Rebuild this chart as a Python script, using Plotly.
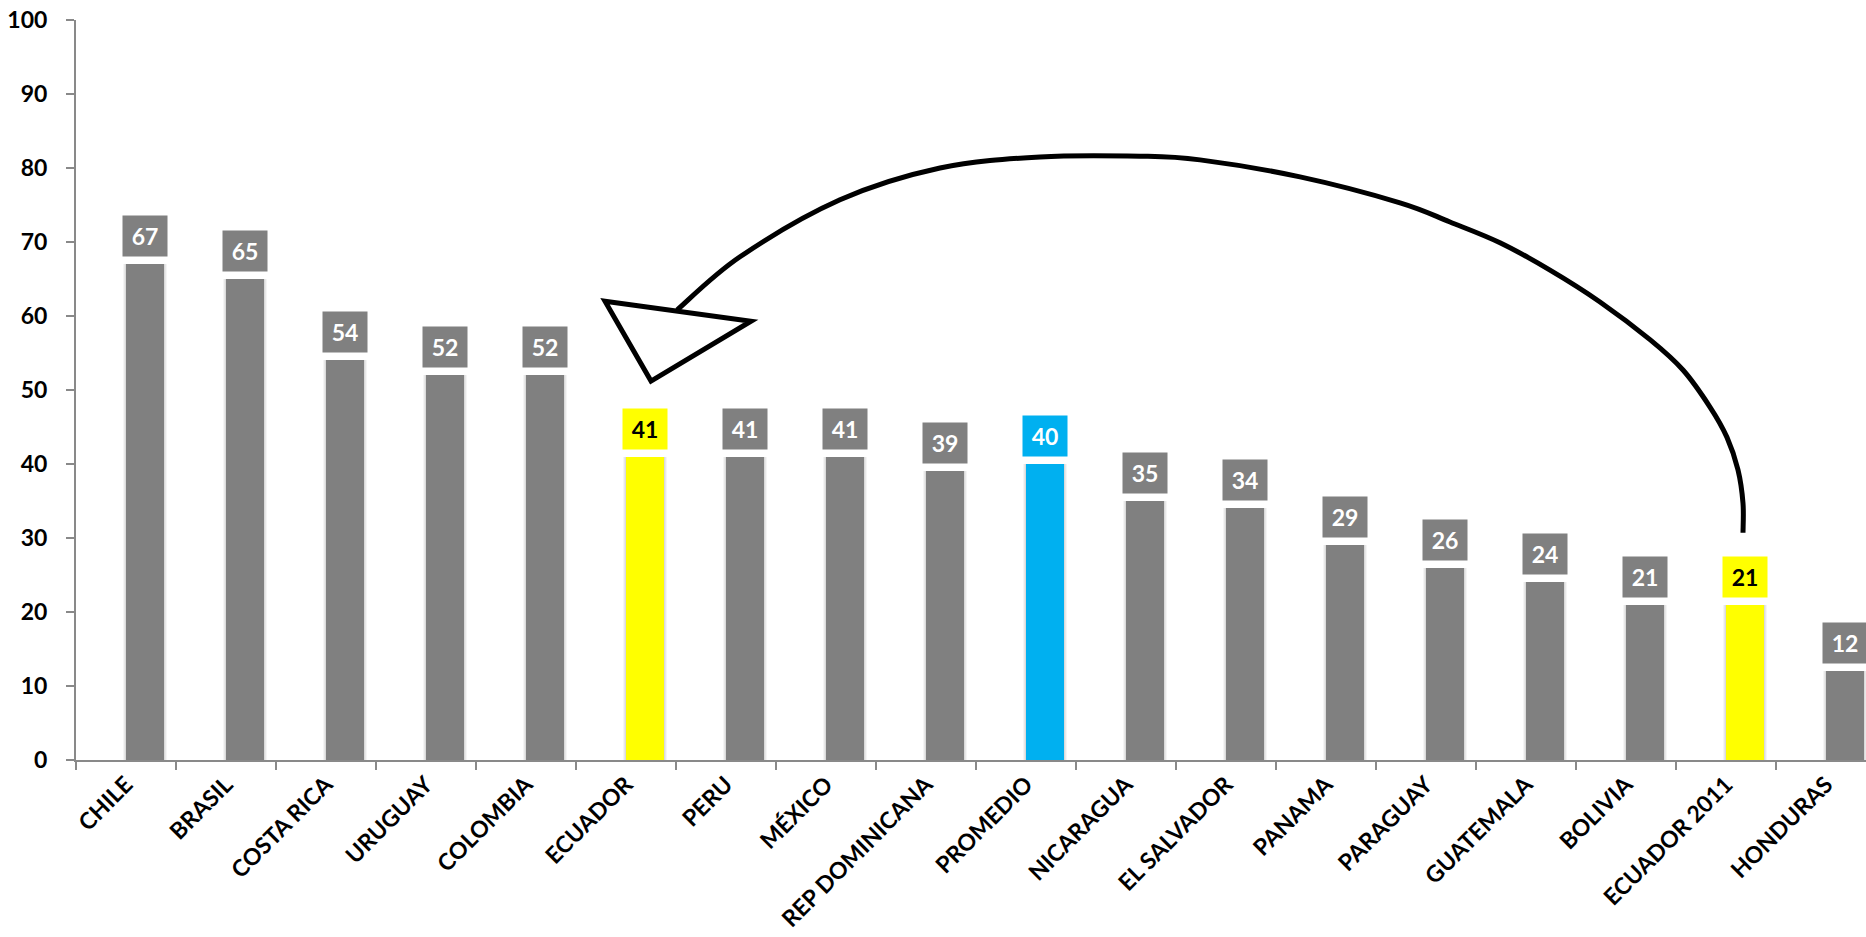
import plotly.graph_objects as go

categories = ["CHILE", "BRASIL", "COSTA RICA", "URUGUAY", "COLOMBIA", "ECUADOR", "PERU",
              "MÉXICO", "REP DOMINICANA", "PROMEDIO", "NICARAGUA", "EL SALVADOR", "PANAMA",
              "PARAGUAY", "GUATEMALA", "BOLIVIA", "ECUADOR 2011", "HONDURAS"]
values = [67, 65, 54, 52, 52, 41, 41, 41, 39, 40, 35, 34, 29, 26, 24, 21, 21, 12]
highlight = {"ECUADOR": "yellow", "ECUADOR 2011": "yellow", "PROMEDIO": "blue"}

GREY = "#808080"
YELLOW = "#FFFF00"
BLUE = "#00B0F0"
colors = []
for c in categories:
    h = highlight.get(c)
    colors.append(YELLOW if h == "yellow" else BLUE if h == "blue" else GREY)

# curved arrow (data units: category index, value)
curve_x = [5.51, 6.14, 7.14, 8.14, 9.14, 10.14, 10.74, 11.74, 12.74, 13.24, 13.74, 14.24,
           14.74, 15.24, 15.57, 15.84, 16.01, 16.12, 16.17, 16.17]
curve_y = [60.8, 68.0, 75.7, 80.0, 81.5, 81.6, 81.1, 78.8, 75.3, 72.7, 69.9, 66.2,
           61.9, 56.8, 52.7, 47.7, 43.6, 39.2, 34.7, 30.7]
head_x = [4.79, 6.25, 5.25]
head_y = [62.0, 59.3, 51.2]

X0, X1 = -0.5, 17.4
FONT = "Lato"

def px(x):
    return (x - X0) / (X1 - X0)

def py(y):
    return y / 100.0

fig = go.Figure()

# soft shadow behind bars
for w, off, op in [(0.44, -0.03, 0.04), (0.42, -0.02, 0.05), (0.40, -0.01, 0.06)]:
    fig.add_trace(go.Bar(x=categories, y=values, width=w, offset=off,
                         marker=dict(color=f"rgba(0,0,0,{op})", line=dict(width=0)),
                         hoverinfo="skip", showlegend=False))

fig.add_trace(go.Bar(x=categories, y=values, width=0.38, offset=0,
                     marker=dict(color=colors, line=dict(width=0)), showlegend=False))

fig.update_layout(barmode="overlay")

annotations = []
for i, (c, v, col) in enumerate(zip(categories, values, colors)):
    annotations.append(dict(
        x=i + 0.19, y=v, xref="x", yref="y", text=f"<b>{v}</b>", showarrow=False,
        yanchor="bottom", yshift=7, bgcolor=col, width=44, height=40, borderpad=0,
        font=dict(family=FONT, size=23, color="black" if col == YELLOW else "white"),
    ))

# build smooth path via Catmull-Rom
pts = [(px(x), py(y)) for x, y in zip(curve_x, curve_y)]
path = f"M {pts[0][0]},{pts[0][1]}"
for k in range(len(pts) - 1):
    p0 = pts[k - 1] if k > 0 else pts[k]
    p1 = pts[k]
    p2 = pts[k + 1]
    p3 = pts[k + 2] if k + 2 < len(pts) else pts[k + 1]
    c1 = (p1[0] + (p2[0] - p0[0]) / 6, p1[1] + (p2[1] - p0[1]) / 6)
    c2 = (p2[0] - (p3[0] - p1[0]) / 6, p2[1] - (p3[1] - p1[1]) / 6)
    path += f" C {c1[0]},{c1[1]} {c2[0]},{c2[1]} {p2[0]},{p2[1]}"

hp = [(px(x), py(y)) for x, y in zip(head_x, head_y)]
head_path = "M " + " L ".join(f"{a},{b}" for a, b in hp) + " Z"

shapes = [
    dict(type="path", path=path, xref="paper", yref="paper", line=dict(color="black", width=5)),
    dict(type="path", path=head_path, xref="paper", yref="paper", line=dict(color="black", width=5),
         fillcolor="rgba(0,0,0,0)"),
]

fig.update_layout(
    width=1866, height=937,
    margin=dict(l=76, r=0, t=20, b=177),
    paper_bgcolor="white", plot_bgcolor="white",
    bargap=0,
    annotations=annotations,
    shapes=shapes,
    xaxis=dict(
        type="category", range=[X0, X1], tickson="boundaries",
        ticks="outside", ticklen=8, tickwidth=2, tickcolor="#898989",
        showline=True, linecolor="#898989", linewidth=2,
        tickangle=-45, tickfont=dict(family=FONT, size=23, color="black", weight="bold"),
        showgrid=False, zeroline=False,
    ),
    yaxis=dict(
        range=[0, 100], tickvals=list(range(0, 101, 10)),
        ticks="outside", ticklen=8, tickwidth=2, tickcolor="#898989",
        showline=True, linecolor="#898989", linewidth=2,
        tickfont=dict(family=FONT, size=23, color="black", weight="bold"),
        showgrid=False, zeroline=False, ticklabelstandoff=14,
    ),
)

fig.write_html("out.html")
